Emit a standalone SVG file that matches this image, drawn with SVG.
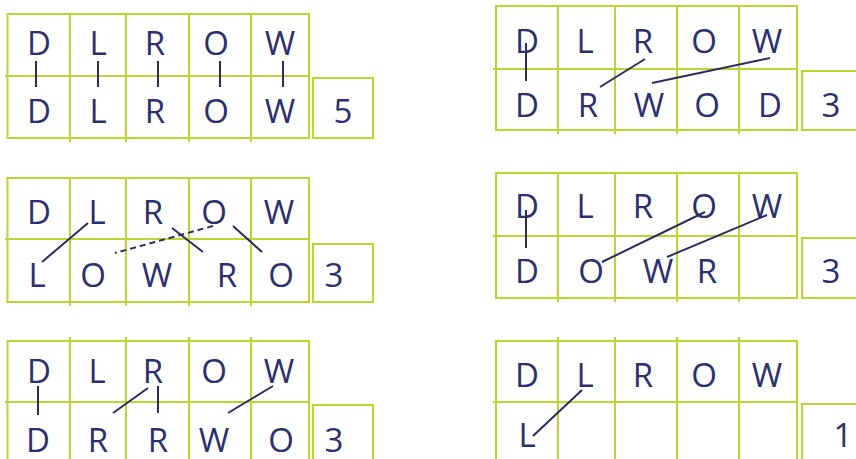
<svg xmlns="http://www.w3.org/2000/svg" width="856" height="459" viewBox="0 0 856 459">
<style>
.g{stroke:#bcd631;stroke-width:2;fill:none}
.t{font-family:"Open Sans","Liberation Sans",sans-serif;font-size:33px;fill:#2d2f6e;text-anchor:middle}
.c{stroke:#2a2d5c;stroke-width:2;fill:none}
.d{stroke-dasharray:6 4}
</style>
<rect width="856" height="459" fill="#fff"/>
<g id="panel1">
<path class="g" d="M7.5,14H309V138H7.5ZM5,76H309M70,14V142M126,14V142M189,14V142M251,14V142"/>
<rect class="g" x="313" y="78" width="60" height="60"/>
<text class="t" x="39" y="55">D</text><text class="t" x="98" y="55">L</text><text class="t" x="155" y="55">R</text><text class="t" x="216" y="55">O</text><text class="t" x="280" y="55">W</text>
<text class="t" x="39" y="123">D</text><text class="t" x="98" y="123">L</text><text class="t" x="155" y="123">R</text><text class="t" x="216" y="123">O</text><text class="t" x="280" y="123">W</text>
<text class="t" x="343" y="123">5</text>
</g>
<g id="panel2">
<path class="g" d="M496,6H797V130H496ZM493,69H797M558,6V134M615,6V134M677,6V134M739,6V134"/>
<path class="g" d="M860,71H802V130H860"/>
<text class="t" x="527" y="53">D</text><text class="t" x="585" y="53">L</text><text class="t" x="643" y="53">R</text><text class="t" x="704" y="53">O</text><text class="t" x="767" y="53">W</text>
<text class="t" x="527" y="117">D</text><text class="t" x="588" y="117">R</text><text class="t" x="649" y="117">W</text><text class="t" x="707" y="117">O</text><text class="t" x="770" y="117">D</text>
<text class="t" x="831" y="117">3</text>
</g>
<g id="panel3">
<path class="g" d="M7.5,178H309V302H7.5ZM5,239H309M70,178V306M126,178V306M189,178V306M251,178V306"/>
<rect class="g" x="313" y="244" width="60" height="58"/>
<text class="t" x="39" y="224">D</text><text class="t" x="97" y="224">L</text><text class="t" x="153" y="224">R</text><text class="t" x="214" y="224">O</text><text class="t" x="279" y="224">W</text>
<text class="t" x="37" y="287">L</text><text class="t" x="93" y="287">O</text><text class="t" x="157" y="287">W</text><text class="t" x="227" y="287">R</text><text class="t" x="281" y="287">O</text>
<text class="t" x="334" y="287">3</text>
</g>
<g id="panel4">
<path class="g" d="M496,173H797V298H496ZM493,236H797M558,173V302M615,173V302M677,173V302M739,173V302"/>
<path class="g" d="M860,238H802V298H860"/>
<text class="t" x="527" y="218">D</text><text class="t" x="585" y="218">L</text><text class="t" x="643" y="218">R</text><text class="t" x="704" y="218">O</text><text class="t" x="767" y="218">W</text>
<text class="t" x="527" y="283">D</text><text class="t" x="591" y="283">O</text><text class="t" x="658" y="283">W</text><text class="t" x="707" y="283">R</text>
<text class="t" x="831" y="283">3</text>
</g>
<g id="panel5">
<path class="g" d="M7.5,464V341H309V464M5,402H309M70,337V464M126,337V464M189,337V464M251,337V464"/>
<path class="g" d="M313,464V405H373V464"/>
<text class="t" x="39" y="383">D</text><text class="t" x="97" y="383">L</text><text class="t" x="153" y="383">R</text><text class="t" x="214" y="383">O</text><text class="t" x="279" y="383">W</text>
<text class="t" x="38" y="452">D</text><text class="t" x="98" y="452">R</text><text class="t" x="158" y="452">R</text><text class="t" x="214" y="452">W</text><text class="t" x="281" y="452">O</text>
<text class="t" x="334" y="452">3</text>
</g>
<g id="panel6">
<path class="g" d="M496,464V341H797V464M493,402H797M558,337V464M615,337V464M677,337V464M739,337V464"/>
<path class="g" d="M860,404H802V464"/>
<text class="t" x="527" y="387">D</text><text class="t" x="585" y="387">L</text><text class="t" x="643" y="387">R</text><text class="t" x="704" y="387">O</text><text class="t" x="767" y="387">W</text>
<text class="t" x="527" y="447">L</text>
<text class="t" x="843" y="447">1</text>
</g>
<g id="connectors">
<path class="c" d="M36,61V87M98,61V87M158,61V87M220,61V87M283,61V87"/>
<path class="c" d="M526,43V81M645,59L600,87M770,58L652,83"/>
<path class="c" d="M88,223L42,262M172,228L203,252M233,226L262,252"/>
<path class="c d" d="M213,226L115,253"/>
<path class="c" d="M526,210V248M705,212L602,262M767,215L667,257"/>
<path class="c" d="M38,386V415M148,388L113,413M158,386V413M273,386L228,413"/>
<path class="c" d="M582,390L533,436"/>
</g>
</svg>
